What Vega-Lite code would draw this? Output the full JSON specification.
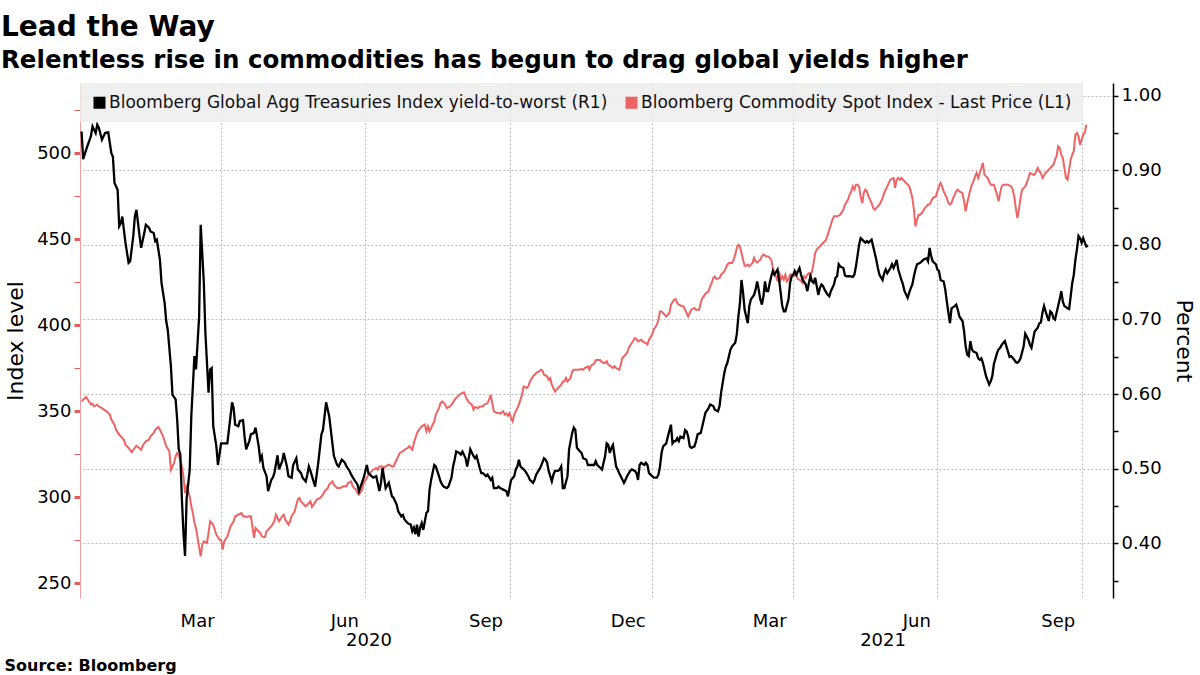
{
"$schema": "https://vega.github.io/schema/vega-lite/v6.json",
"width": 1033, "height": 515,
"autosize": {"type": "none"},
"padding": {"left": 80, "top": 83, "right": 87, "bottom": 77},
"background": "white",
"config": {"font": "DejaVu Sans", "view": {"stroke": null}, "axis": {"labelColor": "#000", "titleColor": "#000", "labelFont": "DejaVu Sans", "titleFont": "DejaVu Sans"}},
"title": {"text": "Lead the Way", "subtitle": "Relentless rise in commodities has begun to drag global yields higher", "anchor": "start", "frame": "group", "dx": -79, "offset": 11, "font": "DejaVu Sans", "fontSize": 28, "fontWeight": "bold", "color": "#000", "subtitleFont": "DejaVu Sans", "subtitleFontSize": 24.5, "subtitleFontWeight": "bold", "subtitleColor": "#000", "subtitlePadding": 7},
"datasets": {
"yield": [
{"date":"2019-12-03","value":0.952},{"date":"2019-12-04","value":0.915},{"date":"2019-12-06","value":0.928},{"date":"2019-12-09","value":0.946},{"date":"2019-12-10","value":0.959},{"date":"2019-12-12","value":0.950},{"date":"2019-12-13","value":0.961},{"date":"2019-12-14","value":0.957},{"date":"2019-12-16","value":0.941},{"date":"2019-12-18","value":0.950},{"date":"2019-12-20","value":0.951},{"date":"2019-12-22","value":0.923},{"date":"2019-12-23","value":0.918},{"date":"2019-12-24","value":0.883},{"date":"2019-12-26","value":0.874},{"date":"2019-12-27","value":0.825},{"date":"2019-12-28","value":0.829},{"date":"2019-12-29","value":0.838},{"date":"2019-12-30","value":0.820},{"date":"2019-12-31","value":0.803},
{"date":"2020-01-02","value":0.776},{"date":"2020-01-03","value":0.778},{"date":"2020-01-05","value":0.812},{"date":"2020-01-06","value":0.838},{"date":"2020-01-07","value":0.847},{"date":"2020-01-09","value":0.812},{"date":"2020-01-10","value":0.796},{"date":"2020-01-12","value":0.816},{"date":"2020-01-13","value":0.827},{"date":"2020-01-15","value":0.823},{"date":"2020-01-16","value":0.818},{"date":"2020-01-18","value":0.816},{"date":"2020-01-19","value":0.805},{"date":"2020-01-20","value":0.807},{"date":"2020-01-22","value":0.780},{"date":"2020-01-23","value":0.749},{"date":"2020-01-25","value":0.722},{"date":"2020-01-26","value":0.698},{"date":"2020-01-27","value":0.686},{"date":"2020-01-29","value":0.637},{"date":"2020-01-30","value":0.599},
{"date":"2020-02-01","value":0.593},{"date":"2020-02-02","value":0.566},{"date":"2020-02-03","value":0.526},{"date":"2020-02-04","value":0.519},{"date":"2020-02-05","value":0.459},{"date":"2020-02-06","value":0.414},{"date":"2020-02-07","value":0.383},{"date":"2020-02-08","value":0.459},{"date":"2020-02-10","value":0.499},{"date":"2020-02-11","value":0.570},{"date":"2020-02-13","value":0.651},{"date":"2020-02-14","value":0.633},{"date":"2020-02-16","value":0.704},{"date":"2020-02-17","value":0.827},{"date":"2020-02-19","value":0.749},{"date":"2020-02-20","value":0.682},{"date":"2020-02-22","value":0.602},{"date":"2020-02-23","value":0.633},{"date":"2020-02-24","value":0.635},{"date":"2020-02-25","value":0.557},{"date":"2020-02-27","value":0.530},{"date":"2020-02-28","value":0.505},
{"date":"2020-03-01","value":0.534},{"date":"2020-03-03","value":0.534},{"date":"2020-03-05","value":0.534},{"date":"2020-03-07","value":0.570},{"date":"2020-03-08","value":0.589},{"date":"2020-03-09","value":0.581},{"date":"2020-03-10","value":0.559},{"date":"2020-03-12","value":0.557},{"date":"2020-03-13","value":0.564},{"date":"2020-03-15","value":0.565},{"date":"2020-03-16","value":0.543},{"date":"2020-03-17","value":0.526},{"date":"2020-03-19","value":0.537},{"date":"2020-03-20","value":0.546},{"date":"2020-03-22","value":0.548},{"date":"2020-03-23","value":0.555},{"date":"2020-03-25","value":0.530},{"date":"2020-03-26","value":0.512},{"date":"2020-03-27","value":0.517},{"date":"2020-03-28","value":0.501},{"date":"2020-03-30","value":0.490},{"date":"2020-03-31","value":0.470},
{"date":"2020-04-02","value":0.485},{"date":"2020-04-03","value":0.488},{"date":"2020-04-04","value":0.494},{"date":"2020-04-06","value":0.518},{"date":"2020-04-07","value":0.499},{"date":"2020-04-09","value":0.510},{"date":"2020-04-10","value":0.521},{"date":"2020-04-12","value":0.503},{"date":"2020-04-13","value":0.490},{"date":"2020-04-15","value":0.488},{"date":"2020-04-16","value":0.505},{"date":"2020-04-18","value":0.514},{"date":"2020-04-19","value":0.499},{"date":"2020-04-21","value":0.494},{"date":"2020-04-22","value":0.488},{"date":"2020-04-24","value":0.483},{"date":"2020-04-25","value":0.492},{"date":"2020-04-26","value":0.503},{"date":"2020-04-27","value":0.497},{"date":"2020-04-28","value":0.490},{"date":"2020-04-30","value":0.476},
{"date":"2020-05-01","value":0.492},{"date":"2020-05-02","value":0.508},{"date":"2020-05-04","value":0.546},{"date":"2020-05-05","value":0.552},{"date":"2020-05-06","value":0.570},{"date":"2020-05-07","value":0.589},{"date":"2020-05-09","value":0.570},{"date":"2020-05-10","value":0.552},{"date":"2020-05-11","value":0.534},{"date":"2020-05-12","value":0.517},{"date":"2020-05-14","value":0.505},{"date":"2020-05-15","value":0.503},{"date":"2020-05-17","value":0.512},{"date":"2020-05-19","value":0.508},{"date":"2020-05-20","value":0.503},{"date":"2020-05-22","value":0.497},{"date":"2020-05-23","value":0.492},{"date":"2020-05-25","value":0.485},{"date":"2020-05-27","value":0.479},{"date":"2020-05-28","value":0.470},{"date":"2020-05-29","value":0.476},{"date":"2020-05-31","value":0.488},
{"date":"2020-06-02","value":0.505},{"date":"2020-06-03","value":0.494},{"date":"2020-06-05","value":0.490},{"date":"2020-06-06","value":0.488},{"date":"2020-06-08","value":0.490},{"date":"2020-06-10","value":0.470},{"date":"2020-06-11","value":0.481},{"date":"2020-06-12","value":0.501},{"date":"2020-06-13","value":0.488},{"date":"2020-06-14","value":0.474},{"date":"2020-06-16","value":0.481},{"date":"2020-06-17","value":0.472},{"date":"2020-06-18","value":0.463},{"date":"2020-06-19","value":0.461},{"date":"2020-06-21","value":0.452},{"date":"2020-06-22","value":0.443},{"date":"2020-06-24","value":0.436},{"date":"2020-06-25","value":0.438},{"date":"2020-06-26","value":0.432},{"date":"2020-06-28","value":0.427},{"date":"2020-06-30","value":0.425},
{"date":"2020-07-01","value":0.416},{"date":"2020-07-02","value":0.421},{"date":"2020-07-03","value":0.412},{"date":"2020-07-04","value":0.425},{"date":"2020-07-05","value":0.409},{"date":"2020-07-06","value":0.421},{"date":"2020-07-07","value":0.427},{"date":"2020-07-08","value":0.418},{"date":"2020-07-10","value":0.441},{"date":"2020-07-11","value":0.443},{"date":"2020-07-12","value":0.472},{"date":"2020-07-13","value":0.485},{"date":"2020-07-15","value":0.505},{"date":"2020-07-16","value":0.503},{"date":"2020-07-18","value":0.490},{"date":"2020-07-19","value":0.483},{"date":"2020-07-20","value":0.479},{"date":"2020-07-21","value":0.476},{"date":"2020-07-23","value":0.474},{"date":"2020-07-24","value":0.476},{"date":"2020-07-26","value":0.488},{"date":"2020-07-27","value":0.503},{"date":"2020-07-28","value":0.512},{"date":"2020-07-29","value":0.523},{"date":"2020-07-31","value":0.521},
{"date":"2020-08-01","value":0.519},{"date":"2020-08-02","value":0.523},{"date":"2020-08-04","value":0.514},{"date":"2020-08-05","value":0.503},{"date":"2020-08-06","value":0.514},{"date":"2020-08-07","value":0.526},{"date":"2020-08-09","value":0.517},{"date":"2020-08-10","value":0.514},{"date":"2020-08-11","value":0.517},{"date":"2020-08-13","value":0.501},{"date":"2020-08-14","value":0.494},{"date":"2020-08-15","value":0.494},{"date":"2020-08-17","value":0.490},{"date":"2020-08-18","value":0.492},{"date":"2020-08-20","value":0.485},{"date":"2020-08-21","value":0.488},{"date":"2020-08-22","value":0.474},{"date":"2020-08-24","value":0.474},{"date":"2020-08-25","value":0.476},{"date":"2020-08-26","value":0.474},{"date":"2020-08-28","value":0.472},{"date":"2020-08-30","value":0.470},{"date":"2020-08-31","value":0.463},
{"date":"2020-09-01","value":0.474},{"date":"2020-09-02","value":0.485},{"date":"2020-09-04","value":0.490},{"date":"2020-09-05","value":0.499},{"date":"2020-09-06","value":0.503},{"date":"2020-09-07","value":0.512},{"date":"2020-09-08","value":0.503},{"date":"2020-09-10","value":0.499},{"date":"2020-09-11","value":0.497},{"date":"2020-09-13","value":0.490},{"date":"2020-09-14","value":0.485},{"date":"2020-09-16","value":0.481},{"date":"2020-09-17","value":0.485},{"date":"2020-09-18","value":0.492},{"date":"2020-09-20","value":0.499},{"date":"2020-09-21","value":0.503},{"date":"2020-09-23","value":0.514},{"date":"2020-09-24","value":0.512},{"date":"2020-09-25","value":0.508},{"date":"2020-09-26","value":0.497},{"date":"2020-09-28","value":0.483},{"date":"2020-09-29","value":0.492},{"date":"2020-09-30","value":0.497},
{"date":"2020-10-02","value":0.497},{"date":"2020-10-03","value":0.499},{"date":"2020-10-04","value":0.503},{"date":"2020-10-05","value":0.474},{"date":"2020-10-06","value":0.474},{"date":"2020-10-08","value":0.490},{"date":"2020-10-09","value":0.526},{"date":"2020-10-11","value":0.548},{"date":"2020-10-12","value":0.555},{"date":"2020-10-13","value":0.552},{"date":"2020-10-14","value":0.528},{"date":"2020-10-16","value":0.523},{"date":"2020-10-17","value":0.521},{"date":"2020-10-18","value":0.514},{"date":"2020-10-20","value":0.512},{"date":"2020-10-21","value":0.505},{"date":"2020-10-25","value":0.505},{"date":"2020-10-26","value":0.510},{"date":"2020-10-27","value":0.505},{"date":"2020-10-29","value":0.501},{"date":"2020-10-30","value":0.499},
{"date":"2020-11-01","value":0.517},{"date":"2020-11-02","value":0.534},{"date":"2020-11-03","value":0.532},{"date":"2020-11-04","value":0.521},{"date":"2020-11-05","value":0.528},{"date":"2020-11-06","value":0.532},{"date":"2020-11-07","value":0.517},{"date":"2020-11-08","value":0.503},{"date":"2020-11-09","value":0.499},{"date":"2020-11-10","value":0.494},{"date":"2020-11-11","value":0.490},{"date":"2020-11-13","value":0.481},{"date":"2020-11-14","value":0.485},{"date":"2020-11-15","value":0.490},{"date":"2020-11-17","value":0.497},{"date":"2020-11-18","value":0.499},{"date":"2020-11-20","value":0.497},{"date":"2020-11-21","value":0.494},{"date":"2020-11-22","value":0.485},{"date":"2020-11-23","value":0.505},{"date":"2020-11-24","value":0.508},{"date":"2020-11-26","value":0.505},{"date":"2020-11-27","value":0.508},{"date":"2020-11-28","value":0.505},{"date":"2020-11-29","value":0.494},
{"date":"2020-12-01","value":0.490},{"date":"2020-12-02","value":0.488},{"date":"2020-12-04","value":0.488},{"date":"2020-12-05","value":0.492},{"date":"2020-12-06","value":0.503},{"date":"2020-12-07","value":0.521},{"date":"2020-12-08","value":0.530},{"date":"2020-12-09","value":0.532},{"date":"2020-12-10","value":0.534},{"date":"2020-12-11","value":0.543},{"date":"2020-12-13","value":0.559},{"date":"2020-12-14","value":0.534},{"date":"2020-12-15","value":0.537},{"date":"2020-12-16","value":0.537},{"date":"2020-12-17","value":0.541},{"date":"2020-12-18","value":0.537},{"date":"2020-12-19","value":0.543},{"date":"2020-12-21","value":0.541},{"date":"2020-12-22","value":0.552},{"date":"2020-12-23","value":0.550},{"date":"2020-12-24","value":0.543},{"date":"2020-12-25","value":0.530},{"date":"2020-12-26","value":0.528},{"date":"2020-12-28","value":0.530},{"date":"2020-12-29","value":0.537},{"date":"2020-12-30","value":0.546},
{"date":"2021-01-01","value":0.548},{"date":"2021-01-02","value":0.557},{"date":"2021-01-03","value":0.566},{"date":"2021-01-04","value":0.575},{"date":"2021-01-06","value":0.581},{"date":"2021-01-07","value":0.586},{"date":"2021-01-09","value":0.584},{"date":"2021-01-10","value":0.579},{"date":"2021-01-12","value":0.577},{"date":"2021-01-13","value":0.584},{"date":"2021-01-14","value":0.602},{"date":"2021-01-15","value":0.615},{"date":"2021-01-16","value":0.628},{"date":"2021-01-17","value":0.637},{"date":"2021-01-18","value":0.642},{"date":"2021-01-19","value":0.651},{"date":"2021-01-20","value":0.660},{"date":"2021-01-21","value":0.664},{"date":"2021-01-23","value":0.669},{"date":"2021-01-24","value":0.680},{"date":"2021-01-25","value":0.704},{"date":"2021-01-26","value":0.722},{"date":"2021-01-27","value":0.753},{"date":"2021-01-28","value":0.736},{"date":"2021-01-29","value":0.713},{"date":"2021-01-30","value":0.704},{"date":"2021-01-31","value":0.695},
{"date":"2021-02-01","value":0.718},{"date":"2021-02-02","value":0.727},{"date":"2021-02-04","value":0.733},{"date":"2021-02-05","value":0.740},{"date":"2021-02-06","value":0.751},{"date":"2021-02-07","value":0.740},{"date":"2021-02-08","value":0.727},{"date":"2021-02-09","value":0.720},{"date":"2021-02-10","value":0.731},{"date":"2021-02-11","value":0.751},{"date":"2021-02-12","value":0.738},{"date":"2021-02-13","value":0.738},{"date":"2021-02-14","value":0.749},{"date":"2021-02-15","value":0.758},{"date":"2021-02-16","value":0.765},{"date":"2021-02-17","value":0.760},{"date":"2021-02-19","value":0.767},{"date":"2021-02-20","value":0.753},{"date":"2021-02-21","value":0.736},{"date":"2021-02-22","value":0.718},{"date":"2021-02-23","value":0.711},{"date":"2021-02-24","value":0.711},{"date":"2021-02-26","value":0.727},{"date":"2021-02-27","value":0.749},{"date":"2021-02-28","value":0.758},
{"date":"2021-03-01","value":0.760},{"date":"2021-03-02","value":0.765},{"date":"2021-03-03","value":0.760},{"date":"2021-03-05","value":0.769},{"date":"2021-03-06","value":0.760},{"date":"2021-03-07","value":0.753},{"date":"2021-03-09","value":0.747},{"date":"2021-03-10","value":0.738},{"date":"2021-03-11","value":0.749},{"date":"2021-03-12","value":0.758},{"date":"2021-03-13","value":0.751},{"date":"2021-03-14","value":0.749},{"date":"2021-03-15","value":0.756},{"date":"2021-03-16","value":0.745},{"date":"2021-03-17","value":0.733},{"date":"2021-03-18","value":0.742},{"date":"2021-03-19","value":0.747},{"date":"2021-03-20","value":0.745},{"date":"2021-03-21","value":0.740},{"date":"2021-03-23","value":0.733},{"date":"2021-03-24","value":0.731},{"date":"2021-03-25","value":0.738},{"date":"2021-03-27","value":0.747},{"date":"2021-03-28","value":0.756},{"date":"2021-03-29","value":0.758},{"date":"2021-03-30","value":0.774},{"date":"2021-03-31","value":0.771},
{"date":"2021-04-02","value":0.769},{"date":"2021-04-03","value":0.759},{"date":"2021-04-04","value":0.758},{"date":"2021-04-06","value":0.758},{"date":"2021-04-08","value":0.757},{"date":"2021-04-09","value":0.760},{"date":"2021-04-10","value":0.771},{"date":"2021-04-11","value":0.785},{"date":"2021-04-12","value":0.800},{"date":"2021-04-13","value":0.809},{"date":"2021-04-14","value":0.807},{"date":"2021-04-16","value":0.803},{"date":"2021-04-17","value":0.805},{"date":"2021-04-18","value":0.803},{"date":"2021-04-20","value":0.807},{"date":"2021-04-21","value":0.798},{"date":"2021-04-22","value":0.789},{"date":"2021-04-23","value":0.780},{"date":"2021-04-24","value":0.769},{"date":"2021-04-25","value":0.760},{"date":"2021-04-27","value":0.753},{"date":"2021-04-28","value":0.762},{"date":"2021-04-29","value":0.767},{"date":"2021-04-30","value":0.762},
{"date":"2021-05-02","value":0.769},{"date":"2021-05-03","value":0.774},{"date":"2021-05-04","value":0.769},{"date":"2021-05-05","value":0.774},{"date":"2021-05-06","value":0.780},{"date":"2021-05-07","value":0.767},{"date":"2021-05-08","value":0.760},{"date":"2021-05-09","value":0.753},{"date":"2021-05-10","value":0.747},{"date":"2021-05-11","value":0.738},{"date":"2021-05-13","value":0.729},{"date":"2021-05-14","value":0.736},{"date":"2021-05-15","value":0.742},{"date":"2021-05-16","value":0.747},{"date":"2021-05-17","value":0.758},{"date":"2021-05-18","value":0.767},{"date":"2021-05-19","value":0.774},{"date":"2021-05-21","value":0.776},{"date":"2021-05-22","value":0.778},{"date":"2021-05-23","value":0.780},{"date":"2021-05-25","value":0.782},{"date":"2021-05-26","value":0.778},{"date":"2021-05-27","value":0.796},{"date":"2021-05-28","value":0.785},{"date":"2021-05-29","value":0.778},{"date":"2021-05-31","value":0.774},
{"date":"2021-06-01","value":0.767},{"date":"2021-06-02","value":0.765},{"date":"2021-06-03","value":0.753},{"date":"2021-06-05","value":0.751},{"date":"2021-06-06","value":0.740},{"date":"2021-06-07","value":0.724},{"date":"2021-06-08","value":0.709},{"date":"2021-06-09","value":0.695},{"date":"2021-06-10","value":0.715},{"date":"2021-06-12","value":0.718},{"date":"2021-06-13","value":0.720},{"date":"2021-06-14","value":0.713},{"date":"2021-06-15","value":0.704},{"date":"2021-06-17","value":0.698},{"date":"2021-06-18","value":0.684},{"date":"2021-06-19","value":0.664},{"date":"2021-06-20","value":0.653},{"date":"2021-06-21","value":0.651},{"date":"2021-06-22","value":0.671},{"date":"2021-06-23","value":0.660},{"date":"2021-06-24","value":0.657},{"date":"2021-06-26","value":0.655},{"date":"2021-06-27","value":0.648},{"date":"2021-06-28","value":0.646},{"date":"2021-06-29","value":0.648},{"date":"2021-06-30","value":0.642},
{"date":"2021-07-01","value":0.633},{"date":"2021-07-02","value":0.624},{"date":"2021-07-04","value":0.613},{"date":"2021-07-05","value":0.617},{"date":"2021-07-06","value":0.624},{"date":"2021-07-07","value":0.640},{"date":"2021-07-09","value":0.655},{"date":"2021-07-10","value":0.660},{"date":"2021-07-11","value":0.662},{"date":"2021-07-12","value":0.666},{"date":"2021-07-14","value":0.671},{"date":"2021-07-15","value":0.664},{"date":"2021-07-16","value":0.657},{"date":"2021-07-17","value":0.650},{"date":"2021-07-18","value":0.651},{"date":"2021-07-20","value":0.646},{"date":"2021-07-21","value":0.643},{"date":"2021-07-22","value":0.642},{"date":"2021-07-23","value":0.644},{"date":"2021-07-24","value":0.648},{"date":"2021-07-26","value":0.664},{"date":"2021-07-27","value":0.681},{"date":"2021-07-28","value":0.677},{"date":"2021-07-29","value":0.673},{"date":"2021-07-30","value":0.666},{"date":"2021-07-31","value":0.662},
{"date":"2021-08-01","value":0.673},{"date":"2021-08-02","value":0.684},{"date":"2021-08-04","value":0.689},{"date":"2021-08-05","value":0.695},{"date":"2021-08-06","value":0.696},{"date":"2021-08-07","value":0.709},{"date":"2021-08-08","value":0.718},{"date":"2021-08-09","value":0.711},{"date":"2021-08-10","value":0.704},{"date":"2021-08-11","value":0.698},{"date":"2021-08-12","value":0.711},{"date":"2021-08-13","value":0.709},{"date":"2021-08-14","value":0.702},{"date":"2021-08-15","value":0.700},{"date":"2021-08-16","value":0.709},{"date":"2021-08-17","value":0.718},{"date":"2021-08-18","value":0.727},{"date":"2021-08-19","value":0.738},{"date":"2021-08-20","value":0.724},{"date":"2021-08-21","value":0.718},{"date":"2021-08-23","value":0.715},{"date":"2021-08-24","value":0.714},{"date":"2021-08-25","value":0.731},{"date":"2021-08-26","value":0.749},{"date":"2021-08-27","value":0.760},{"date":"2021-08-28","value":0.780},{"date":"2021-08-29","value":0.794},{"date":"2021-08-30","value":0.812},{"date":"2021-08-31","value":0.809},
{"date":"2021-09-01","value":0.803},{"date":"2021-09-02","value":0.809},{"date":"2021-09-03","value":0.803},{"date":"2021-09-04","value":0.798},{"date":"2021-09-05","value":0.799}
],
"bcom": [
{"date":"2019-12-03","value":355.6},{"date":"2019-12-05","value":357.6},{"date":"2019-12-06","value":358.1},{"date":"2019-12-07","value":356.6},{"date":"2019-12-09","value":353.7},{"date":"2019-12-10","value":354.3},{"date":"2019-12-11","value":352.7},{"date":"2019-12-13","value":353.7},{"date":"2019-12-14","value":352.7},{"date":"2019-12-16","value":351.7},{"date":"2019-12-18","value":350.4},{"date":"2019-12-19","value":349.8},{"date":"2019-12-21","value":347.9},{"date":"2019-12-22","value":345.0},{"date":"2019-12-24","value":342.1},{"date":"2019-12-25","value":339.1},{"date":"2019-12-27","value":336.2},{"date":"2019-12-28","value":335.3},{"date":"2019-12-30","value":333.3},{"date":"2019-12-31","value":330.4},
{"date":"2020-01-02","value":328.5},{"date":"2020-01-04","value":326.0},{"date":"2020-01-05","value":327.5},{"date":"2020-01-07","value":329.8},{"date":"2020-01-08","value":329.1},{"date":"2020-01-10","value":327.5},{"date":"2020-01-11","value":329.8},{"date":"2020-01-13","value":332.4},{"date":"2020-01-15","value":333.3},{"date":"2020-01-16","value":335.3},{"date":"2020-01-18","value":337.2},{"date":"2020-01-19","value":339.1},{"date":"2020-01-21","value":340.7},{"date":"2020-01-22","value":339.1},{"date":"2020-01-24","value":335.3},{"date":"2020-01-25","value":332.4},{"date":"2020-01-26","value":329.5},{"date":"2020-01-28","value":326.6},{"date":"2020-01-29","value":315.9},{"date":"2020-01-31","value":319.8},
{"date":"2020-02-01","value":323.6},{"date":"2020-02-02","value":325.6},{"date":"2020-02-03","value":324.6},{"date":"2020-02-05","value":317.8},{"date":"2020-02-06","value":312.0},{"date":"2020-02-07","value":302.3},{"date":"2020-02-08","value":307.2},{"date":"2020-02-10","value":300.4},{"date":"2020-02-11","value":294.6},{"date":"2020-02-12","value":290.7},{"date":"2020-02-13","value":284.9},{"date":"2020-02-14","value":282.0},{"date":"2020-02-15","value":276.2},{"date":"2020-02-17","value":265.5},{"date":"2020-02-18","value":272.3},{"date":"2020-02-19","value":274.2},{"date":"2020-02-21","value":273.3},{"date":"2020-02-22","value":279.1},{"date":"2020-02-23","value":285.9},{"date":"2020-02-25","value":283.9},{"date":"2020-02-26","value":281.0},{"date":"2020-02-27","value":278.1},{"date":"2020-02-29","value":275.2},
{"date":"2020-03-01","value":275.2},{"date":"2020-03-02","value":269.4},{"date":"2020-03-03","value":274.2},{"date":"2020-03-05","value":277.1},{"date":"2020-03-06","value":280.0},{"date":"2020-03-07","value":282.9},{"date":"2020-03-09","value":285.9},{"date":"2020-03-10","value":288.8},{"date":"2020-03-12","value":289.7},{"date":"2020-03-14","value":290.7},{"date":"2020-03-15","value":288.8},{"date":"2020-03-16","value":288.8},{"date":"2020-03-17","value":288.4},{"date":"2020-03-19","value":288.8},{"date":"2020-03-20","value":288.8},{"date":"2020-03-21","value":282.9},{"date":"2020-03-22","value":276.2},{"date":"2020-03-23","value":282.0},{"date":"2020-03-24","value":281.0},{"date":"2020-03-26","value":279.1},{"date":"2020-03-27","value":277.1},{"date":"2020-03-29","value":276.7},{"date":"2020-03-30","value":280.0},
{"date":"2020-04-01","value":282.0},{"date":"2020-04-02","value":282.9},{"date":"2020-04-04","value":285.9},{"date":"2020-04-05","value":289.7},{"date":"2020-04-06","value":287.8},{"date":"2020-04-07","value":285.9},{"date":"2020-04-09","value":288.8},{"date":"2020-04-10","value":289.7},{"date":"2020-04-11","value":286.8},{"date":"2020-04-13","value":283.9},{"date":"2020-04-14","value":285.9},{"date":"2020-04-15","value":288.8},{"date":"2020-04-17","value":291.7},{"date":"2020-04-18","value":295.5},{"date":"2020-04-19","value":298.5},{"date":"2020-04-20","value":299.4},{"date":"2020-04-21","value":297.5},{"date":"2020-04-23","value":295.5},{"date":"2020-04-24","value":294.6},{"date":"2020-04-26","value":296.5},{"date":"2020-04-27","value":297.5},{"date":"2020-04-28","value":294.2},{"date":"2020-04-30","value":296.9},
{"date":"2020-05-01","value":298.5},{"date":"2020-05-03","value":299.4},{"date":"2020-05-05","value":301.4},{"date":"2020-05-06","value":303.3},{"date":"2020-05-08","value":305.2},{"date":"2020-05-09","value":307.2},{"date":"2020-05-11","value":309.1},{"date":"2020-05-12","value":307.2},{"date":"2020-05-14","value":305.2},{"date":"2020-05-16","value":305.2},{"date":"2020-05-18","value":306.2},{"date":"2020-05-20","value":306.2},{"date":"2020-05-21","value":308.1},{"date":"2020-05-23","value":309.1},{"date":"2020-05-24","value":306.2},{"date":"2020-05-26","value":304.3},{"date":"2020-05-27","value":302.3},{"date":"2020-05-28","value":301.4},{"date":"2020-05-30","value":304.3},{"date":"2020-05-31","value":308.1},
{"date":"2020-06-02","value":311.0},{"date":"2020-06-03","value":313.0},{"date":"2020-06-05","value":314.9},{"date":"2020-06-06","value":315.9},{"date":"2020-06-08","value":316.9},{"date":"2020-06-09","value":315.9},{"date":"2020-06-10","value":317.8},{"date":"2020-06-12","value":317.8},{"date":"2020-06-13","value":316.9},{"date":"2020-06-14","value":317.8},{"date":"2020-06-16","value":318.8},{"date":"2020-06-18","value":317.8},{"date":"2020-06-19","value":317.8},{"date":"2020-06-21","value":321.7},{"date":"2020-06-22","value":323.6},{"date":"2020-06-23","value":325.6},{"date":"2020-06-25","value":326.6},{"date":"2020-06-26","value":327.5},{"date":"2020-06-28","value":328.5},{"date":"2020-06-29","value":329.5},
{"date":"2020-07-01","value":327.5},{"date":"2020-07-02","value":331.4},{"date":"2020-07-03","value":334.3},{"date":"2020-07-04","value":337.2},{"date":"2020-07-06","value":340.1},{"date":"2020-07-07","value":341.1},{"date":"2020-07-09","value":342.1},{"date":"2020-07-10","value":338.2},{"date":"2020-07-11","value":341.1},{"date":"2020-07-12","value":338.2},{"date":"2020-07-13","value":340.1},{"date":"2020-07-15","value":344.0},{"date":"2020-07-16","value":347.9},{"date":"2020-07-18","value":351.7},{"date":"2020-07-19","value":354.6},{"date":"2020-07-20","value":355.6},{"date":"2020-07-22","value":353.7},{"date":"2020-07-23","value":351.7},{"date":"2020-07-25","value":352.7},{"date":"2020-07-26","value":353.7},{"date":"2020-07-27","value":355.0},{"date":"2020-07-28","value":356.6},{"date":"2020-07-30","value":358.5},{"date":"2020-07-31","value":359.5},
{"date":"2020-08-02","value":360.5},{"date":"2020-08-03","value":360.9},{"date":"2020-08-04","value":358.5},{"date":"2020-08-05","value":356.6},{"date":"2020-08-06","value":355.0},{"date":"2020-08-08","value":353.7},{"date":"2020-08-09","value":350.8},{"date":"2020-08-10","value":352.3},{"date":"2020-08-12","value":351.7},{"date":"2020-08-13","value":352.7},{"date":"2020-08-15","value":352.7},{"date":"2020-08-16","value":353.7},{"date":"2020-08-18","value":354.6},{"date":"2020-08-19","value":356.6},{"date":"2020-08-20","value":359.5},{"date":"2020-08-21","value":354.6},{"date":"2020-08-22","value":349.8},{"date":"2020-08-24","value":348.8},{"date":"2020-08-25","value":348.8},{"date":"2020-08-26","value":348.5},{"date":"2020-08-28","value":349.8},{"date":"2020-08-29","value":347.9},{"date":"2020-08-30","value":348.5},{"date":"2020-08-31","value":347.3},
{"date":"2020-09-01","value":348.8},{"date":"2020-09-02","value":345.9},{"date":"2020-09-03","value":344.0},{"date":"2020-09-04","value":347.9},{"date":"2020-09-06","value":351.7},{"date":"2020-09-07","value":353.7},{"date":"2020-09-08","value":356.6},{"date":"2020-09-09","value":359.5},{"date":"2020-09-10","value":364.3},{"date":"2020-09-12","value":363.4},{"date":"2020-09-13","value":364.3},{"date":"2020-09-14","value":367.2},{"date":"2020-09-16","value":370.2},{"date":"2020-09-17","value":371.1},{"date":"2020-09-18","value":372.1},{"date":"2020-09-20","value":373.1},{"date":"2020-09-21","value":374.0},{"date":"2020-09-22","value":373.6},{"date":"2020-09-23","value":371.1},{"date":"2020-09-25","value":370.2},{"date":"2020-09-26","value":368.2},{"date":"2020-09-27","value":369.2},{"date":"2020-09-28","value":365.3},{"date":"2020-09-30","value":361.4},
{"date":"2020-10-01","value":362.4},{"date":"2020-10-02","value":363.4},{"date":"2020-10-04","value":365.3},{"date":"2020-10-05","value":367.2},{"date":"2020-10-06","value":367.2},{"date":"2020-10-07","value":369.2},{"date":"2020-10-08","value":367.2},{"date":"2020-10-10","value":369.2},{"date":"2020-10-11","value":373.1},{"date":"2020-10-12","value":374.0},{"date":"2020-10-14","value":374.0},{"date":"2020-10-15","value":374.0},{"date":"2020-10-17","value":374.4},{"date":"2020-10-18","value":374.0},{"date":"2020-10-19","value":375.0},{"date":"2020-10-21","value":376.0},{"date":"2020-10-22","value":374.0},{"date":"2020-10-23","value":376.4},{"date":"2020-10-25","value":377.5},{"date":"2020-10-26","value":379.5},{"date":"2020-10-27","value":379.8},{"date":"2020-10-29","value":379.5},{"date":"2020-10-30","value":378.3},
{"date":"2020-11-01","value":377.9},{"date":"2020-11-02","value":378.9},{"date":"2020-11-03","value":376.9},{"date":"2020-11-04","value":376.4},{"date":"2020-11-06","value":375.0},{"date":"2020-11-07","value":376.0},{"date":"2020-11-08","value":375.0},{"date":"2020-11-10","value":374.0},{"date":"2020-11-11","value":376.9},{"date":"2020-11-12","value":380.8},{"date":"2020-11-13","value":381.8},{"date":"2020-11-15","value":383.7},{"date":"2020-11-16","value":386.6},{"date":"2020-11-18","value":389.5},{"date":"2020-11-20","value":392.4},{"date":"2020-11-21","value":391.9},{"date":"2020-11-22","value":390.5},{"date":"2020-11-24","value":391.5},{"date":"2020-11-25","value":390.5},{"date":"2020-11-27","value":389.5},{"date":"2020-11-28","value":388.6},{"date":"2020-11-29","value":391.5},
{"date":"2020-12-01","value":394.4},{"date":"2020-12-02","value":397.3},{"date":"2020-12-04","value":400.2},{"date":"2020-12-05","value":403.1},{"date":"2020-12-06","value":407.9},{"date":"2020-12-07","value":407.9},{"date":"2020-12-09","value":406.0},{"date":"2020-12-10","value":405.0},{"date":"2020-12-12","value":407.0},{"date":"2020-12-13","value":411.8},{"date":"2020-12-15","value":414.7},{"date":"2020-12-16","value":415.1},{"date":"2020-12-17","value":412.8},{"date":"2020-12-18","value":411.8},{"date":"2020-12-20","value":410.9},{"date":"2020-12-21","value":410.9},{"date":"2020-12-22","value":408.9},{"date":"2020-12-23","value":407.0},{"date":"2020-12-24","value":405.0},{"date":"2020-12-25","value":407.0},{"date":"2020-12-26","value":408.9},{"date":"2020-12-28","value":409.9},{"date":"2020-12-29","value":408.9},{"date":"2020-12-31","value":408.9},
{"date":"2021-01-01","value":412.8},{"date":"2021-01-02","value":415.7},{"date":"2021-01-03","value":416.7},{"date":"2021-01-04","value":418.2},{"date":"2021-01-06","value":419.6},{"date":"2021-01-07","value":422.5},{"date":"2021-01-08","value":424.4},{"date":"2021-01-09","value":427.3},{"date":"2021-01-10","value":428.3},{"date":"2021-01-11","value":426.7},{"date":"2021-01-13","value":427.3},{"date":"2021-01-14","value":429.3},{"date":"2021-01-16","value":431.2},{"date":"2021-01-17","value":433.1},{"date":"2021-01-18","value":435.1},{"date":"2021-01-19","value":436.0},{"date":"2021-01-21","value":436.0},{"date":"2021-01-22","value":438.0},{"date":"2021-01-23","value":440.9},{"date":"2021-01-24","value":444.8},{"date":"2021-01-25","value":446.7},{"date":"2021-01-26","value":445.7},{"date":"2021-01-27","value":441.9},{"date":"2021-01-28","value":438.0},{"date":"2021-01-29","value":434.5},{"date":"2021-01-30","value":434.5},{"date":"2021-01-31","value":435.1},
{"date":"2021-02-01","value":434.1},{"date":"2021-02-02","value":435.1},{"date":"2021-02-03","value":436.0},{"date":"2021-02-04","value":439.0},{"date":"2021-02-05","value":437.0},{"date":"2021-02-06","value":436.4},{"date":"2021-02-08","value":438.0},{"date":"2021-02-09","value":439.9},{"date":"2021-02-10","value":440.9},{"date":"2021-02-11","value":440.3},{"date":"2021-02-12","value":439.9},{"date":"2021-02-13","value":439.9},{"date":"2021-02-14","value":439.0},{"date":"2021-02-15","value":438.0},{"date":"2021-02-16","value":433.1},{"date":"2021-02-17","value":430.2},{"date":"2021-02-18","value":428.3},{"date":"2021-02-19","value":425.4},{"date":"2021-02-20","value":431.2},{"date":"2021-02-21","value":426.4},{"date":"2021-02-22","value":428.3},{"date":"2021-02-23","value":426.4},{"date":"2021-02-24","value":429.3},{"date":"2021-02-25","value":425.4},{"date":"2021-02-26","value":426.4},{"date":"2021-02-27","value":429.3},{"date":"2021-02-28","value":429.3},
{"date":"2021-03-01","value":428.3},{"date":"2021-03-03","value":429.3},{"date":"2021-03-04","value":426.7},{"date":"2021-03-05","value":426.4},{"date":"2021-03-06","value":425.4},{"date":"2021-03-07","value":424.4},{"date":"2021-03-08","value":428.3},{"date":"2021-03-09","value":427.3},{"date":"2021-03-10","value":429.3},{"date":"2021-03-11","value":430.2},{"date":"2021-03-12","value":428.3},{"date":"2021-03-13","value":431.2},{"date":"2021-03-14","value":436.0},{"date":"2021-03-15","value":441.9},{"date":"2021-03-16","value":443.8},{"date":"2021-03-18","value":445.7},{"date":"2021-03-19","value":446.7},{"date":"2021-03-21","value":448.6},{"date":"2021-03-22","value":449.6},{"date":"2021-03-23","value":452.5},{"date":"2021-03-24","value":455.4},{"date":"2021-03-25","value":458.3},{"date":"2021-03-26","value":461.2},{"date":"2021-03-27","value":463.2},{"date":"2021-03-29","value":463.2},{"date":"2021-03-30","value":463.6},{"date":"2021-03-31","value":464.1},
{"date":"2021-04-02","value":467.1},{"date":"2021-04-03","value":470.0},{"date":"2021-04-05","value":472.9},{"date":"2021-04-06","value":475.8},{"date":"2021-04-07","value":477.7},{"date":"2021-04-08","value":480.6},{"date":"2021-04-09","value":478.7},{"date":"2021-04-10","value":481.6},{"date":"2021-04-11","value":481.6},{"date":"2021-04-12","value":480.6},{"date":"2021-04-13","value":474.8},{"date":"2021-04-14","value":470.9},{"date":"2021-04-15","value":476.7},{"date":"2021-04-16","value":478.7},{"date":"2021-04-17","value":477.7},{"date":"2021-04-18","value":474.8},{"date":"2021-04-20","value":470.9},{"date":"2021-04-21","value":468.0},{"date":"2021-04-22","value":467.1},{"date":"2021-04-23","value":468.0},{"date":"2021-04-24","value":469.0},{"date":"2021-04-25","value":470.0},{"date":"2021-04-27","value":473.8},{"date":"2021-04-28","value":476.7},{"date":"2021-04-29","value":478.7},{"date":"2021-04-30","value":480.6},
{"date":"2021-05-01","value":482.6},{"date":"2021-05-02","value":484.5},{"date":"2021-05-04","value":485.5},{"date":"2021-05-05","value":479.7},{"date":"2021-05-06","value":484.5},{"date":"2021-05-07","value":485.5},{"date":"2021-05-08","value":484.5},{"date":"2021-05-09","value":485.5},{"date":"2021-05-10","value":484.5},{"date":"2021-05-12","value":482.6},{"date":"2021-05-14","value":480.6},{"date":"2021-05-15","value":477.7},{"date":"2021-05-16","value":473.8},{"date":"2021-05-17","value":467.1},{"date":"2021-05-18","value":457.4},{"date":"2021-05-19","value":461.2},{"date":"2021-05-20","value":464.1},{"date":"2021-05-21","value":464.1},{"date":"2021-05-22","value":465.1},{"date":"2021-05-24","value":468.0},{"date":"2021-05-25","value":469.0},{"date":"2021-05-26","value":470.0},{"date":"2021-05-27","value":470.0},{"date":"2021-05-28","value":471.9},{"date":"2021-05-29","value":473.8},{"date":"2021-05-31","value":474.8},
{"date":"2021-06-01","value":477.7},{"date":"2021-06-02","value":480.6},{"date":"2021-06-03","value":482.6},{"date":"2021-06-04","value":480.6},{"date":"2021-06-05","value":477.7},{"date":"2021-06-07","value":473.8},{"date":"2021-06-08","value":470.9},{"date":"2021-06-09","value":470.0},{"date":"2021-06-10","value":470.9},{"date":"2021-06-11","value":473.8},{"date":"2021-06-12","value":475.8},{"date":"2021-06-13","value":477.7},{"date":"2021-06-14","value":478.7},{"date":"2021-06-15","value":477.7},{"date":"2021-06-17","value":476.7},{"date":"2021-06-18","value":471.9},{"date":"2021-06-19","value":466.1},{"date":"2021-06-20","value":470.9},{"date":"2021-06-21","value":474.8},{"date":"2021-06-22","value":478.7},{"date":"2021-06-23","value":481.6},{"date":"2021-06-24","value":483.5},{"date":"2021-06-25","value":486.4},{"date":"2021-06-26","value":488.4},{"date":"2021-06-27","value":485.5},{"date":"2021-06-28","value":488.4},{"date":"2021-06-29","value":491.3},{"date":"2021-06-30","value":494.2},
{"date":"2021-07-01","value":487.4},{"date":"2021-07-02","value":486.4},{"date":"2021-07-03","value":485.5},{"date":"2021-07-04","value":483.5},{"date":"2021-07-05","value":481.6},{"date":"2021-07-07","value":481.6},{"date":"2021-07-08","value":478.7},{"date":"2021-07-09","value":475.8},{"date":"2021-07-10","value":471.9},{"date":"2021-07-11","value":476.7},{"date":"2021-07-12","value":480.6},{"date":"2021-07-13","value":481.6},{"date":"2021-07-15","value":481.6},{"date":"2021-07-16","value":481.6},{"date":"2021-07-18","value":480.6},{"date":"2021-07-19","value":478.7},{"date":"2021-07-20","value":474.8},{"date":"2021-07-21","value":468.0},{"date":"2021-07-22","value":462.2},{"date":"2021-07-23","value":467.1},{"date":"2021-07-24","value":473.8},{"date":"2021-07-25","value":478.7},{"date":"2021-07-27","value":480.6},{"date":"2021-07-28","value":482.6},{"date":"2021-07-29","value":485.5},{"date":"2021-07-30","value":488.4},
{"date":"2021-08-01","value":487.4},{"date":"2021-08-02","value":487.4},{"date":"2021-08-03","value":489.3},{"date":"2021-08-04","value":491.3},{"date":"2021-08-05","value":489.3},{"date":"2021-08-06","value":488.4},{"date":"2021-08-07","value":485.5},{"date":"2021-08-09","value":488.4},{"date":"2021-08-10","value":489.3},{"date":"2021-08-11","value":490.3},{"date":"2021-08-12","value":491.3},{"date":"2021-08-14","value":493.2},{"date":"2021-08-15","value":496.1},{"date":"2021-08-16","value":498.1},{"date":"2021-08-17","value":503.9},{"date":"2021-08-18","value":502.9},{"date":"2021-08-19","value":499.0},{"date":"2021-08-20","value":497.1},{"date":"2021-08-21","value":491.3},{"date":"2021-08-22","value":485.5},{"date":"2021-08-23","value":484.5},{"date":"2021-08-24","value":490.3},{"date":"2021-08-25","value":496.1},{"date":"2021-08-26","value":499.0},{"date":"2021-08-27","value":501.0},{"date":"2021-08-28","value":510.7},{"date":"2021-08-29","value":511.6},{"date":"2021-08-30","value":509.7},{"date":"2021-08-31","value":504.8},
{"date":"2021-09-01","value":507.7},{"date":"2021-09-02","value":510.7},{"date":"2021-09-03","value":511.6},{"date":"2021-09-04","value":516.5}
]
},
"layer": [
{
"data": {"name": "bcom"},
"transform": [{"filter": "false"}],
"mark": {"type": "square", "filled": true, "opacity": 1},
"encoding": {
"color": {"datum": "Bloomberg Commodity Spot Index - Last Price (L1)",
 "scale": {"domain": ["Bloomberg Global Agg Treasuries Index yield-to-worst (R1)", "Bloomberg Commodity Spot Index - Last Price (L1)"], "range": ["#000000", "#ee6464"]},
 "legend": {"orient": "top-left", "offset": 0, "direction": "horizontal", "title": null, "symbolType": "square", "symbolSize": 144, "symbolStrokeWidth": 0, "symbolOpacity": 1, "labelFontSize": 17, "labelColor": "#111111", "labelLimit": 1000, "fillColor": "rgba(236,236,236,0.8)", "padding": 11, "rowPadding": 0, "columnPadding": 15, "labelOffset": 1}}
}
},
{
"data": {"name": "bcom"},
"mark": {"type": "line", "strokeWidth": 2, "color": "#e86868"},
"encoding": {
"x": {"field": "date", "type": "temporal",
 "scale": {"type": "utc", "domain": [{"year": 2019, "month": 12, "date": 2, "utc": true}, {"year": 2021, "month": 9, "date": 21, "utc": true}]},
 "axis": {"orient": "bottom", "values": [{"year": 2020, "month": 3, "date": 1, "utc": true}, {"year": 2020, "month": 6, "date": 1, "utc": true}, {"year": 2020, "month": 9, "date": 1, "utc": true}, {"year": 2020, "month": 12, "date": 1, "utc": true}, {"year": 2021, "month": 3, "date": 1, "utc": true}, {"year": 2021, "month": 6, "date": 1, "utc": true}, {"year": 2021, "month": 9, "date": 1, "utc": true}],
  "labelExpr": "utcFormat(datum.value, '%b')", "labelAlign": "right", "labelOffset": -7, "labelPadding": 14, "labelFontSize": 18, "labelFlush": false, "labelOverlap": false,
  "ticks": false, "domain": false, "grid": true, "gridColor": "#bdbdbd", "gridDash": [2, 2], "gridWidth": 1,
  "title": "Source: Bloomberg", "titleAnchor": "start", "titleAlign": "left", "titleBaseline": "alphabetic", "titleX": -76, "titleY": 72, "titleFontSize": 16, "titleFontWeight": "bold"}},
"y": {"field": "value", "type": "quantitative",
 "scale": {"domain": [241.3, 540.7], "nice": false, "zero": false},
 "axis": {"orient": "left", "values": [250, 275, 300, 325, 350, 375, 400, 425, 450, 475, 500, 525], "labelExpr": "datum.value % 50 === 0 ? datum.label : ''",
  "labelFontSize": 18, "labelPadding": 3, "tickColor": "#e06060", "tickSize": 6, "tickWidth": {"condition": {"test": "datum.value % 50 === 0", "value": 3}, "value": 1},
  "domainColor": "#f0a0a0", "domainWidth": 1, "grid": false,
  "title": "Index level", "titleFontSize": 22, "titleFontWeight": "normal", "titlePadding": 9}},
"color": {"datum": "Bloomberg Commodity Spot Index - Last Price (L1)",
 "scale": {"domain": ["Bloomberg Global Agg Treasuries Index yield-to-worst (R1)", "Bloomberg Commodity Spot Index - Last Price (L1)"], "range": ["#000000", "#ee6464"]},
 "legend": {"orient": "top-left", "offset": 0, "direction": "horizontal", "title": null, "symbolType": "square", "symbolSize": 144, "symbolStrokeWidth": 0, "symbolOpacity": 1, "labelFontSize": 17, "labelColor": "#111111", "labelLimit": 1000, "fillColor": "rgba(236,236,236,0.8)", "padding": 11, "rowPadding": 0, "columnPadding": 15, "labelOffset": 1}}
}
},
{
"data": {"name": "yield"},
"mark": {"type": "line", "strokeWidth": 2.3, "color": "#000000"},
"encoding": {
"x": {"field": "date", "type": "temporal",
 "scale": {"type": "utc", "domain": [{"year": 2019, "month": 12, "date": 2, "utc": true}, {"year": 2021, "month": 9, "date": 21, "utc": true}]},
 "axis": {"orient": "bottom", "values": [{"year": 2020, "month": 6, "date": 3, "utc": true}, {"year": 2021, "month": 4, "date": 27, "utc": true}],
  "labelExpr": "utcFormat(datum.value, '%Y')", "labelAlign": "center", "labelPadding": 33, "labelFontSize": 18, "labelFlush": false, "labelOverlap": false,
  "ticks": false, "domain": false, "grid": false, "title": null}},
"y": {"field": "value", "type": "quantitative",
 "scale": {"domain": [0.3267, 1.017], "nice": false, "zero": false},
 "axis": {"orient": "right", "values": [0.35, 0.4, 0.45, 0.5, 0.55, 0.6, 0.65, 0.7, 0.75, 0.8, 0.85, 0.9, 0.95, 1.0],
  "labelExpr": "round(datum.value * 100) % 10 === 0 ? format(datum.value, '.2f') : ''",
  "labelFontSize": 18, "labelPadding": 3, "tickColor": "#000000", "tickSize": 5, "tickWidth": 1.5,
  "domainColor": "#000000", "domainWidth": 1.5,
  "grid": true, "gridColor": "#bdbdbd", "gridDash": [2, 2], "gridWidth": 1,
  "gridOpacity": {"condition": {"test": "round(datum.value * 100) % 10 === 0", "value": 1}, "value": 0},
  "title": "Percent", "titleFontSize": 22, "titleFontWeight": "normal", "titlePadding": 10}},
"color": {"datum": "Bloomberg Global Agg Treasuries Index yield-to-worst (R1)",
 "scale": {"domain": ["Bloomberg Global Agg Treasuries Index yield-to-worst (R1)", "Bloomberg Commodity Spot Index - Last Price (L1)"], "range": ["#000000", "#ee6464"]},
 "legend": {"orient": "top-left", "offset": 0, "direction": "horizontal", "title": null, "symbolType": "square", "symbolSize": 144, "symbolStrokeWidth": 0, "symbolOpacity": 1, "labelFontSize": 17, "labelColor": "#111111", "labelLimit": 1000, "fillColor": "rgba(236,236,236,0.8)", "padding": 11, "rowPadding": 0, "columnPadding": 15, "labelOffset": 1}}
}
}
],
"resolve": {"scale": {"x": "independent", "y": "independent"}, "axis": {"x": "independent", "y": "independent"}}
}
